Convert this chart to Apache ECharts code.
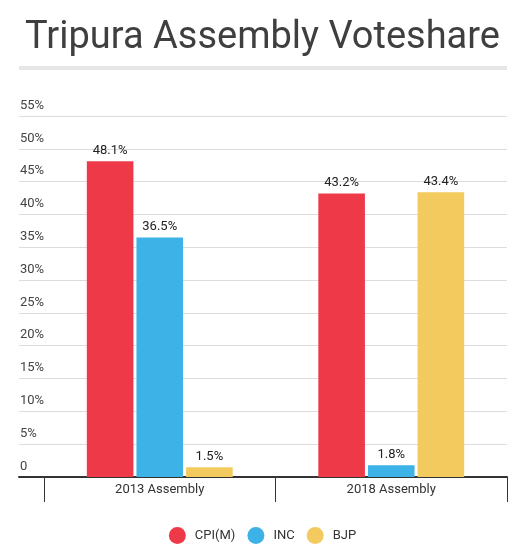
<!DOCTYPE html>
<html><head><meta charset="utf-8">
<script src="https://cdn.jsdelivr.net/npm/echarts@6/dist/echarts.min.js"></script>
<style>html,body{margin:0;padding:0;background:#fff}#c{width:525px;height:557px}</style>
</head><body><div id="c"></div>
<script>
const categories = ['2013 Assembly', '2018 Assembly'];
const seriesNames = ['CPI(M)', 'INC', 'BJP'];
const cpim = [48.1, 43.2];
const inc = [36.5, 1.8];
const bjp = [1.5, 43.4];
const colors = ['#EE3A48', '#3DB2E6', '#F3CA5E'];
const yMin = 0, yMax = 55, yStep = 5;

const chart = echarts.init(document.getElementById('c'));
const font = 'Roboto, "Noto Sans", sans-serif';
const values = [cpim, inc, bjp];
chart.setOption({
  animation: false,
  textStyle: { fontFamily: font },
  title: {
    text: 'Tripura Assembly Voteshare', left: 'center', top: 14,
    textStyle: { fontSize: 38, fontWeight: 'normal', color: '#3f3f3f', fontFamily: font }
  },
  graphic: [{ type: 'rect', shape: { x: 19, y: 66, width: 488, height: 4 }, style: { fill: '#e6e6e6' } }],
  legend: {
    bottom: 8, left: 'center', icon: 'circle', itemWidth: 17, itemHeight: 17, itemGap: 12,
    textStyle: { fontSize: 13, color: '#333', fontFamily: font, padding: [0, 0, 0, 4] },
    data: seriesNames
  },
  grid: [
    { left: 19, right: 18, top: 116, bottom: 80 },
    { left: 44, right: 18, top: 116, bottom: 80 }
  ],
  xAxis: [
    { gridIndex: 0, type: 'category', data: categories, axisLine: { show: true, lineStyle: { color: '#333', width: 2 } }, axisTick: { show: false }, axisLabel: { show: false } },
    { gridIndex: 1, type: 'category', data: categories,
      axisLine: { show: false },
      axisTick: { show: true, length: 25, lineStyle: { color: '#333', width: 1 } },
      axisLabel: { fontSize: 13, color: '#333', margin: 6, fontFamily: font } }
  ],
  yAxis: [
    { gridIndex: 0, type: 'value', min: yMin, max: yMax, interval: yStep,
      axisLine: { show: false }, axisTick: { show: false },
      splitLine: { lineStyle: { color: '#dcdcdc', width: 1 } },
      axisLabel: { inside: true, align: 'left', verticalAlign: 'bottom', margin: 1, padding: [0, 0, 4, 0],
        fontSize: 13, color: '#444', fontFamily: font,
        formatter: v => v === 0 ? '0' : v + '%' } },
    { gridIndex: 1, type: 'value', min: yMin, max: yMax, interval: yStep, show: false, splitLine: { show: false } }
  ],
  series: seriesNames.map((n, i) => ({
    name: n, type: 'bar', xAxisIndex: 1, yAxisIndex: 1, data: values[i],
    itemStyle: { color: colors[i] },
    barCategoryGap: '37%', barGap: '6.5%',
    label: { show: true, position: 'top', distance: 4, fontSize: 13, color: '#222', fontFamily: font, formatter: p => p.value + '%' }
  }))
});
</script></body></html>
